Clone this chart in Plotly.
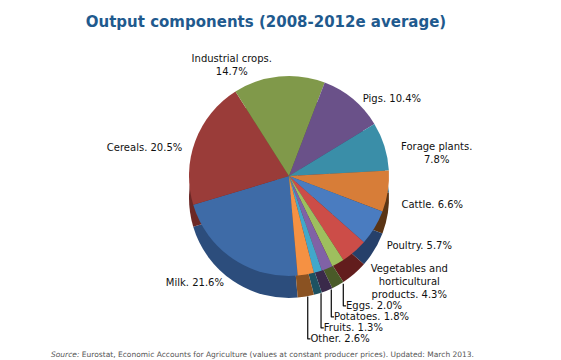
import plotly.graph_objects as go

categories = ["Milk", "Cereals", "Industrial crops", "Pigs", "Forage plants", "Cattle",
              "Poultry", "Vegetables and horticultural products", "Eggs", "Potatoes", "Fruits", "Other"]
shares = [21.6, 20.5, 14.7, 10.4, 7.8, 6.6, 5.7, 4.3, 2.0, 1.8, 1.3, 2.6]
label_lines = ["Milk. {v}%", "Cereals. {v}%", "Industrial crops.<br>{v}%", "Pigs. {v}%",
               "Forage plants.<br>{v}%", "Cattle. {v}%", "Poultry. {v}%",
               "Vegetables and<br>horticultural<br>products. {v}%", "Eggs. {v}%",
               "Potatoes. {v}%", "Fruits. {v}%", "Other. {v}%"]
top_colors = ["#3e6ba7", "#9a3c39", "#80994a", "#6a5189", "#3a8ea8", "#d77d38",
              "#4a7cc0", "#cc4d48", "#9ebf5e", "#8062a6", "#42a8cb", "#f59143"]
side_colors = ["#2c4d7c", "#6c2826", "#56692f", "#463560", "#25607a", "#5a3414",
               "#26406a", "#621d1d", "#4a5a28", "#3a2a4a", "#1e5262", "#8a5222"]

texts = [t.format(v=f"{v:.1f}") for t, v in zip(label_lines, shares)]

W, H = 561, 360
cx, cy, r, depth = 281, 168, 100, 22
rot = 175

def dom(center_y, radius):
    return dict(x=[(cx - radius) / W, (cx + radius) / W],
                y=[(H - center_y - radius) / H, (H - center_y + radius) / H])

fig = go.Figure()
# side wall layer
fig.add_trace(go.Pie(
    labels=categories, values=shares, sort=False, direction="clockwise", rotation=rot,
    marker=dict(colors=side_colors, line=dict(width=0)),
    textinfo="none", hoverinfo="skip", showlegend=False,
    domain=dom(cy + depth, r),
))
# top face
fig.add_trace(go.Pie(
    labels=categories, values=shares, sort=False, direction="clockwise", rotation=rot,
    marker=dict(colors=top_colors, line=dict(width=0)),
    textinfo="none", showlegend=False,
    hovertemplate="%{label}: %{value:.1f}%<extra></extra>",
    domain=dom(cy, r),
))
# label carrier enclosing the whole solid
fig.add_trace(go.Pie(
    labels=categories, values=shares, sort=False, direction="clockwise", rotation=rot,
    marker=dict(colors=["rgba(0,0,0,0)"] * len(shares), line=dict(width=0)),
    text=texts, textinfo="text", textposition="outside",
    outsidetextfont=dict(family="DejaVu Sans", size=10, color="#111111"),
    hoverinfo="skip", automargin=False, showlegend=False,
    domain=dom(cy + depth / 2, r + depth / 2),
))

fig.update_layout(
    width=W, height=H,
    margin=dict(l=0, r=0, t=0, b=0),
    paper_bgcolor="#ffffff", plot_bgcolor="#ffffff",
    title=dict(text="<b>Output components (2008-2012e average)</b>",
               x=258 / W, xanchor="center", y=1 - 14 / H, yanchor="middle",
               font=dict(family="DejaVu Sans", size=15, color="#1f5a8e")),
    annotations=[dict(
        text="<i>Source:</i> Eurostat, Economic Accounts for Agriculture (values at constant producer prices). Updated: March 2013.",
        x=254 / W, xref="paper", xanchor="center", y=7 / H, yref="paper", yanchor="bottom",
        showarrow=False, font=dict(family="DejaVu Sans", size=7.5, color="#555555"))],
)

fig.write_html("out.html")
